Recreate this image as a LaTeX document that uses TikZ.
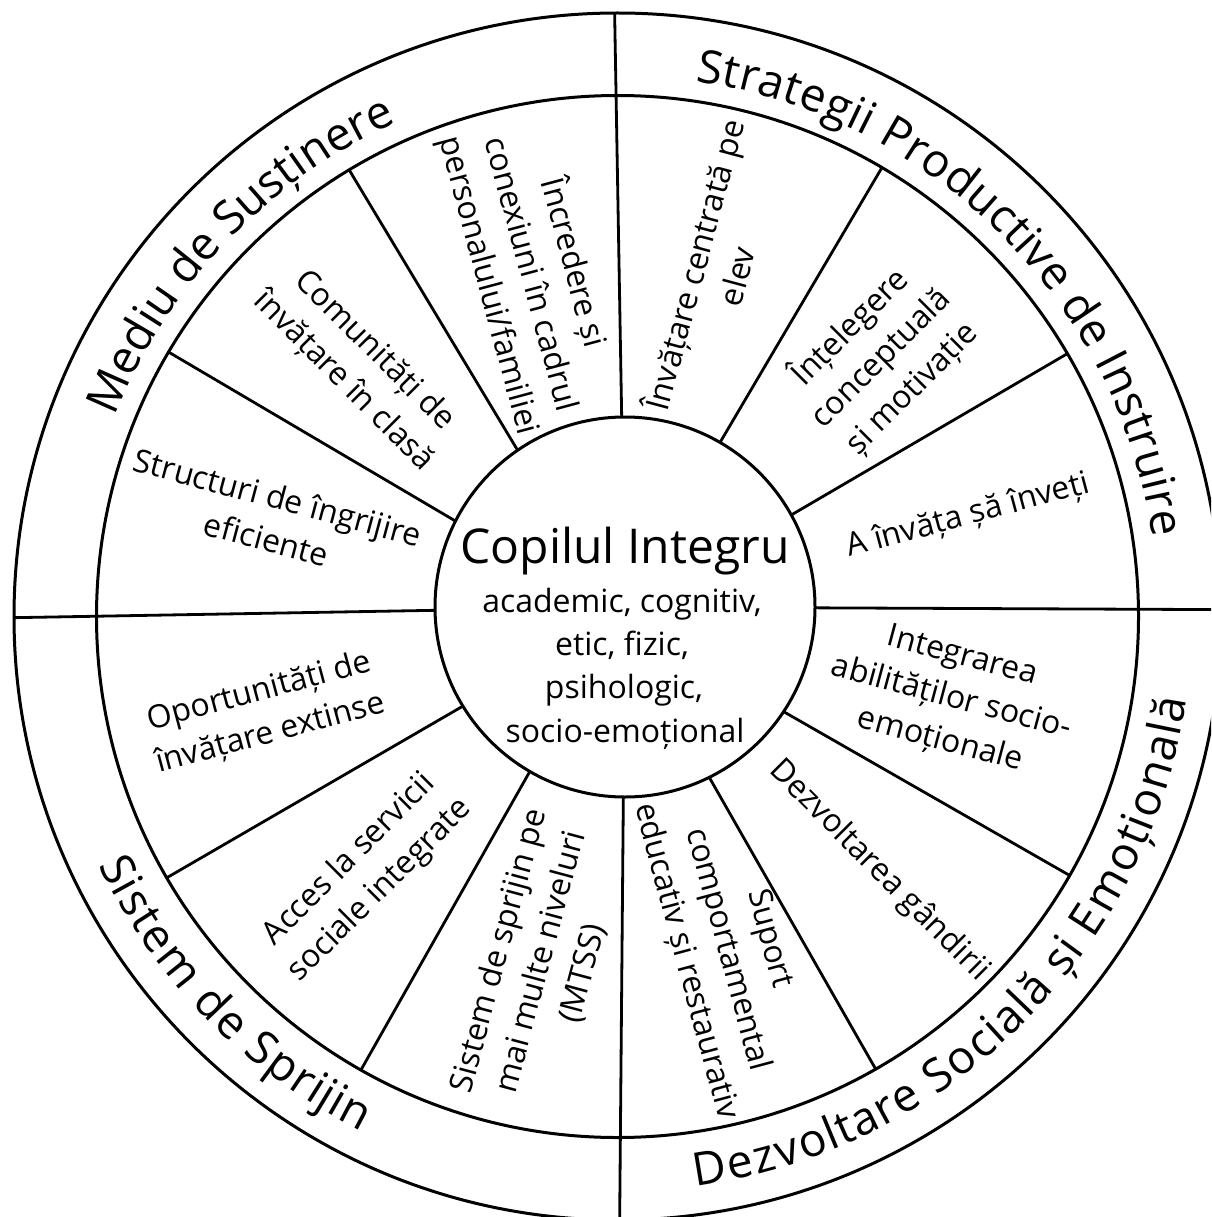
\documentclass[tikz,border=0pt]{standalone}
\usepackage{fontspec}
\setmainfont{Open Sans}
\usetikzlibrary{decorations.text,calc}

\newcommand\ringfont{\fontsize{46}{55}\selectfont}
\newcommand\titlefont{\fontsize{48}{58}\selectfont}
\newcommand\subfont{\fontsize{32}{43.5}\selectfont}
\newcommand\segfont{\fontsize{32}{43.5}\selectfont}

\begin{document}
\begin{tikzpicture}[x=1pt,y=1pt,
  ring/.style={line width=3pt},
  spoke/.style={line width=2.8pt},
  seg/.style={font=\segfont, align=center, inner sep=0pt},
  sub/.style={font=\subfont, anchor=base, inner sep=0pt},
  ringlabel/.style={decorate, decoration={text effects along path,
      text={#1}, text effects/.cd, text along path, fit text to path,
      characters={inner sep=0pt}}}
]
\useasboundingbox (0,0) rectangle (1211,-1217);
\fill[white] (0,0) rectangle (1211,-1217);
\clip (0,0) rectangle (1211,-1217);

% centre of the two outer rings and of the hub
\coordinate (C1) at (617.5,-616.5);
\coordinate (C2) at (625,-607);

% sector spokes, radial from the ring centre, ending on the inner ring
\begin{scope}
  \clip (C1) circle[radius=521];
  \foreach \a in {30.3,59.5,121,149.5,210.1,240.5,299.7,330.2}
    \draw[spoke] ($(C1)+(\a:100)$) -- ($(C1)+(\a:700)$);
\end{scope}

% quadrant dividers, radial from the hub, out to the outer ring
\begin{scope}
  \clip (C1) circle[radius=603.5];
  \foreach \a in {91,181,269.5,359.75}
    \draw[spoke] ($(C2)+(\a:150)$) -- ($(C2)+(\a:800)$);
\end{scope}

% hub
\node[circle, draw, fill=white, line width=3pt, minimum size=380pt, inner sep=0pt] (hub) at (C2) {};

% rings
\draw[ring] (C1) circle[radius=603.5];
\draw[ring] (C1) circle[radius=521];

% quadrant titles along the ring
{\ringfont
\path[ringlabel={Mediu de Susținere}]
  ($(C1)+(158.3:541)$) arc[start angle=158.3, end angle=114.1, radius=541];
\path[ringlabel={Strategii Productive de Instruire}]
  ($(C1)+(81.7:541)$) arc[start angle=81.7, end angle=8.4, radius=541];
\path[ringlabel={Dezvoltare Socială și Emoțională}]
  ($(C1)+(-82.2:575)$) arc[start angle=-82.2, end angle=-8.3, radius=575];
\path[ringlabel={Sistem de Sprijin}]
  ($(C1)+(205.6:575)$) arc[start angle=205.6, end angle=243.6, radius=575];
}

% hub text
\node[font=\titlefont, anchor=base, inner sep=0pt] (title) at (625,-563) {Copilul Integru};
\node[sub] (s1) at (622,-612) {academic, cognitiv,};
\node[sub] (s2) at (622,-655) {etic, fizic,};
\node[sub] (s3) at (624,-698) {psihologic,};
\node[sub] (s4) at (625,-742) {socio-emoțional};

% sector labels
\node[seg, rotate=-15] (l1) at (272,-518) {Structuri de îngrijire\\eficiente};
\node[seg, rotate=-45] (l2) at (359,-366) {Comunități de\\învățare în clasă};
\node[seg, rotate=-75] (l3) at (532,-274) {Încredere și\\conexiuni în cadrul\\personalului/familiei};
\node[seg, rotate=75] (r1) at (713,-270) {Învățare centrată pe\\elev};
\node[seg, rotate=45] (r2) at (880,-357) {Înțelegere\\conceptuală\\și motivație};
\node[seg, rotate=15] (r3) at (968,-516) {A învăța șă înveți};
\node[seg, rotate=-15] (b1) at (951,-699) {Integrarea\\abilităților socio-\\emoționale};
\node[seg, rotate=-45] (b2) at (879,-871) {Dezvoltarea gândirii};
\node[seg, rotate=-75] (b3) at (727,-950) {Suport\\comportamental\\educativ și restaurativ};
\node[seg, rotate=75] (d1) at (541,-962) {Sistem de sprijin pe\\mai multe niveluri\\(MTSS)};
\node[seg, rotate=45] (d2) at (365,-875) {Acces la servicii\\sociale integrate};
\node[seg, rotate=15] (d3) at (265,-713) {Oportunități de\\învățare extinse};
\end{tikzpicture}
\end{document}
